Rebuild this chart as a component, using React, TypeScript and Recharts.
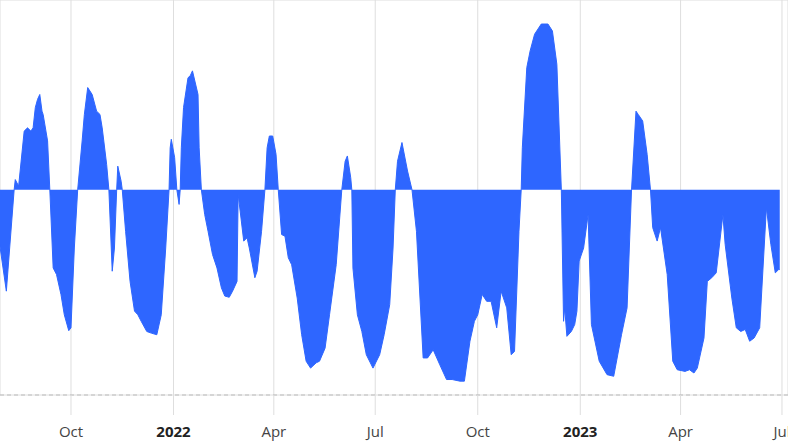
import React from 'react';
import { AreaChart, Area, XAxis, YAxis, CartesianGrid } from 'recharts';

// day offsets from 2021-07-29 and the deviation read at each point
const START = Date.UTC(2021, 6, 29);
const DAY = 86400000;

const dayOffsets = [
  0, 6, 13, 14, 17, 22, 25, 28, 30, 32, 34, 36, 38, 39, 43, 45, 48, 51, 55, 58,
  62, 64, 67, 70, 74, 76, 79, 83, 87, 90, 92, 96, 98, 101, 103, 105, 106, 109, 110, 113,
  117, 121, 124, 127, 132, 136, 141, 145, 149, 152, 153, 154, 157, 159, 161, 162, 163, 165, 169, 171,
  173, 178, 179, 181, 184, 187, 191, 195, 199, 202, 206, 209, 213, 214, 219, 222, 224, 229, 231, 235,
  238, 240, 242, 245, 248, 250, 253, 256, 259, 262, 267, 271, 275, 279, 284, 287, 292, 296, 302, 307,
  310, 312, 315, 316, 317, 321, 325, 329, 335, 341, 345, 350, 353, 355, 357, 361, 366, 370, 374, 380,
  384, 389, 395, 401, 406, 413, 417, 422, 426, 429, 433, 437, 441, 446, 450, 455, 459, 462, 466, 468,
  469, 473, 476, 480, 486, 492, 496, 500, 504, 506, 507, 509, 513, 516, 518, 520, 524, 528, 531, 538,
  545, 551, 558, 563, 567, 571, 573, 577, 581, 584, 586, 590, 593, 599, 604, 608, 615, 619, 623, 626,
  632, 635, 639, 643, 649, 651, 657, 661, 665, 669, 673, 677, 682, 688, 692, 696, 699, 700,
];

const values = [
  -13.4, -24.9, 0, 2.5, 0.9, 14.4, 15.2, 14.4, 15.2, 20.2, 22.2, 23.4, 19.3, 18.5, 12.0, 0, -19.2, -20.8, -25.7, -30.7,
  -34.6, -33.9, -14.3, 0, 12.0, 18.5, 25.1, 23.4, 19.3, 18.5, 15.2, 6.2, 0, -20.0, -14.3, 0, 5.8, 2.1, 0, -10.2,
  -22.5, -29.8, -30.7, -32.3, -34.8, -35.2, -35.6, -30.7, -14.3, 0, 10.3, 12.4, 7.9, 0, -3.6, 0, 10.3, 20.2, 27.5, 28.0,
  29.2, 23.4, 10.3, 0, -6.1, -10.2, -15.9, -19.2, -24.1, -26.1, -26.4, -24.9, -22.5, -1.1, -12.6, -11.8, -14.3, -21.6, -20.0, -10.2,
  0, 10.3, 13.2, 13.2, 8.7, 0, -11.0, -11.4, -16.7, -18.4, -26.6, -35.6, -42.1, -43.8, -42.5, -42.1, -38.9, -30.7, -18.4, 0,
  7.0, 8.3, 3.0, 0, -19.2, -30.7, -34.8, -40.5, -43.8, -40.5, -35.6, -28.2, -14.3, 0, 7.0, 11.6, 4.6, 0, -10.2, -41.3,
  -41.3, -39.3, -43.0, -46.6, -46.6, -47.0, -47.0, -37.2, -32.3, -30.7, -25.7, -27.4, -27.4, -33.9, -24.9, -29.0, -40.5, -39.7, -10.2, 0,
  10.3, 30.0, 34.1, 38.2, 40.7, 40.7, 39.0, 30.8, 0, -32.3, -29.0, -36.0, -34.8, -33.1, -29.8, -17.5, -14.3, -6.1, -33.1, -42.1,
  -45.4, -45.8, -35.6, -29.0, 0, 19.3, 18.5, 16.9, 8.7, 0, -9.3, -12.6, -9.3, -20.8, -42.1, -44.2, -44.6, -44.2, -45.0, -43.8,
  -36.4, -22.5, -21.6, -20.4, -6.1, -13.4, -26.6, -33.9, -34.8, -34.3, -37.2, -36.4, -33.9, -4.4, -13.4, -20.4, -19.6, -19.6,
];

const tickDates = [
  Date.UTC(2021, 9, 1),
  Date.UTC(2022, 0, 1),
  Date.UTC(2022, 3, 1),
  Date.UTC(2022, 6, 1),
  Date.UTC(2022, 9, 1),
  Date.UTC(2023, 0, 1),
  Date.UTC(2023, 3, 1),
  Date.UTC(2023, 6, 1),
];
const tickLabels = ['Oct', '2022', 'Apr', 'Jul', 'Oct', '2023', 'Apr', 'Jul'];

const yTicks = [-40, -30, -20, -10, 0, 10, 20, 30, 40];

const data = dayOffsets.map((d, i) => ({ t: START + d * DAY, v: values[i] }));

const DateTick = (props: any) => {
  const { x, y, payload } = props;
  const idx = tickDates.indexOf(payload.value);
  const label = idx >= 0 ? tickLabels[idx] : '';
  const isYear = /^\d{4}$/.test(label);
  return (
    <text
      x={x}
      y={y}
      dy={20}
      textAnchor="middle"
      fontFamily="'Open Sans', sans-serif"
      fontSize={15}
      fontWeight={isYear ? 700 : 400}
      fill={isYear ? '#222' : '#444'}
    >
      {label}
    </text>
  );
};

export default function App() {
  return (
    <div style={{ position: 'absolute', top: 0, left: 0, width: 788, height: 445, overflow: 'hidden', background: '#fff' }}>
      <AreaChart width={788} height={445} data={data} margin={{ top: 0, right: 0, bottom: 0, left: 0 }}>
        <CartesianGrid stroke="#dedede" />
        <XAxis
          dataKey="t"
          type="number"
          domain={[START + 0.3 * DAY, START + 707.4 * DAY]}
          allowDataOverflow
          ticks={tickDates}
          tick={<DateTick />}
          tickSize={20}
          tickLine={{ stroke: '#dedede' }}
          axisLine={{ stroke: '#bbb', strokeDasharray: '4 3' }}
          height={50}
          interval={0}
        />
        <YAxis
          type="number"
          domain={[-50.4, 46.6]}
          allowDataOverflow
          ticks={yTicks}
          width={0}
          tick={false}
          axisLine={false}
          tickLine={false}
        />
        <Area
          type="linear"
          dataKey="v"
          baseValue={0}
          stroke="#2e66ff"
          strokeWidth={1}
          fill="#2e66ff"
          fillOpacity={1}
          isAnimationActive={false}
        />
      </AreaChart>
    </div>
  );
}
